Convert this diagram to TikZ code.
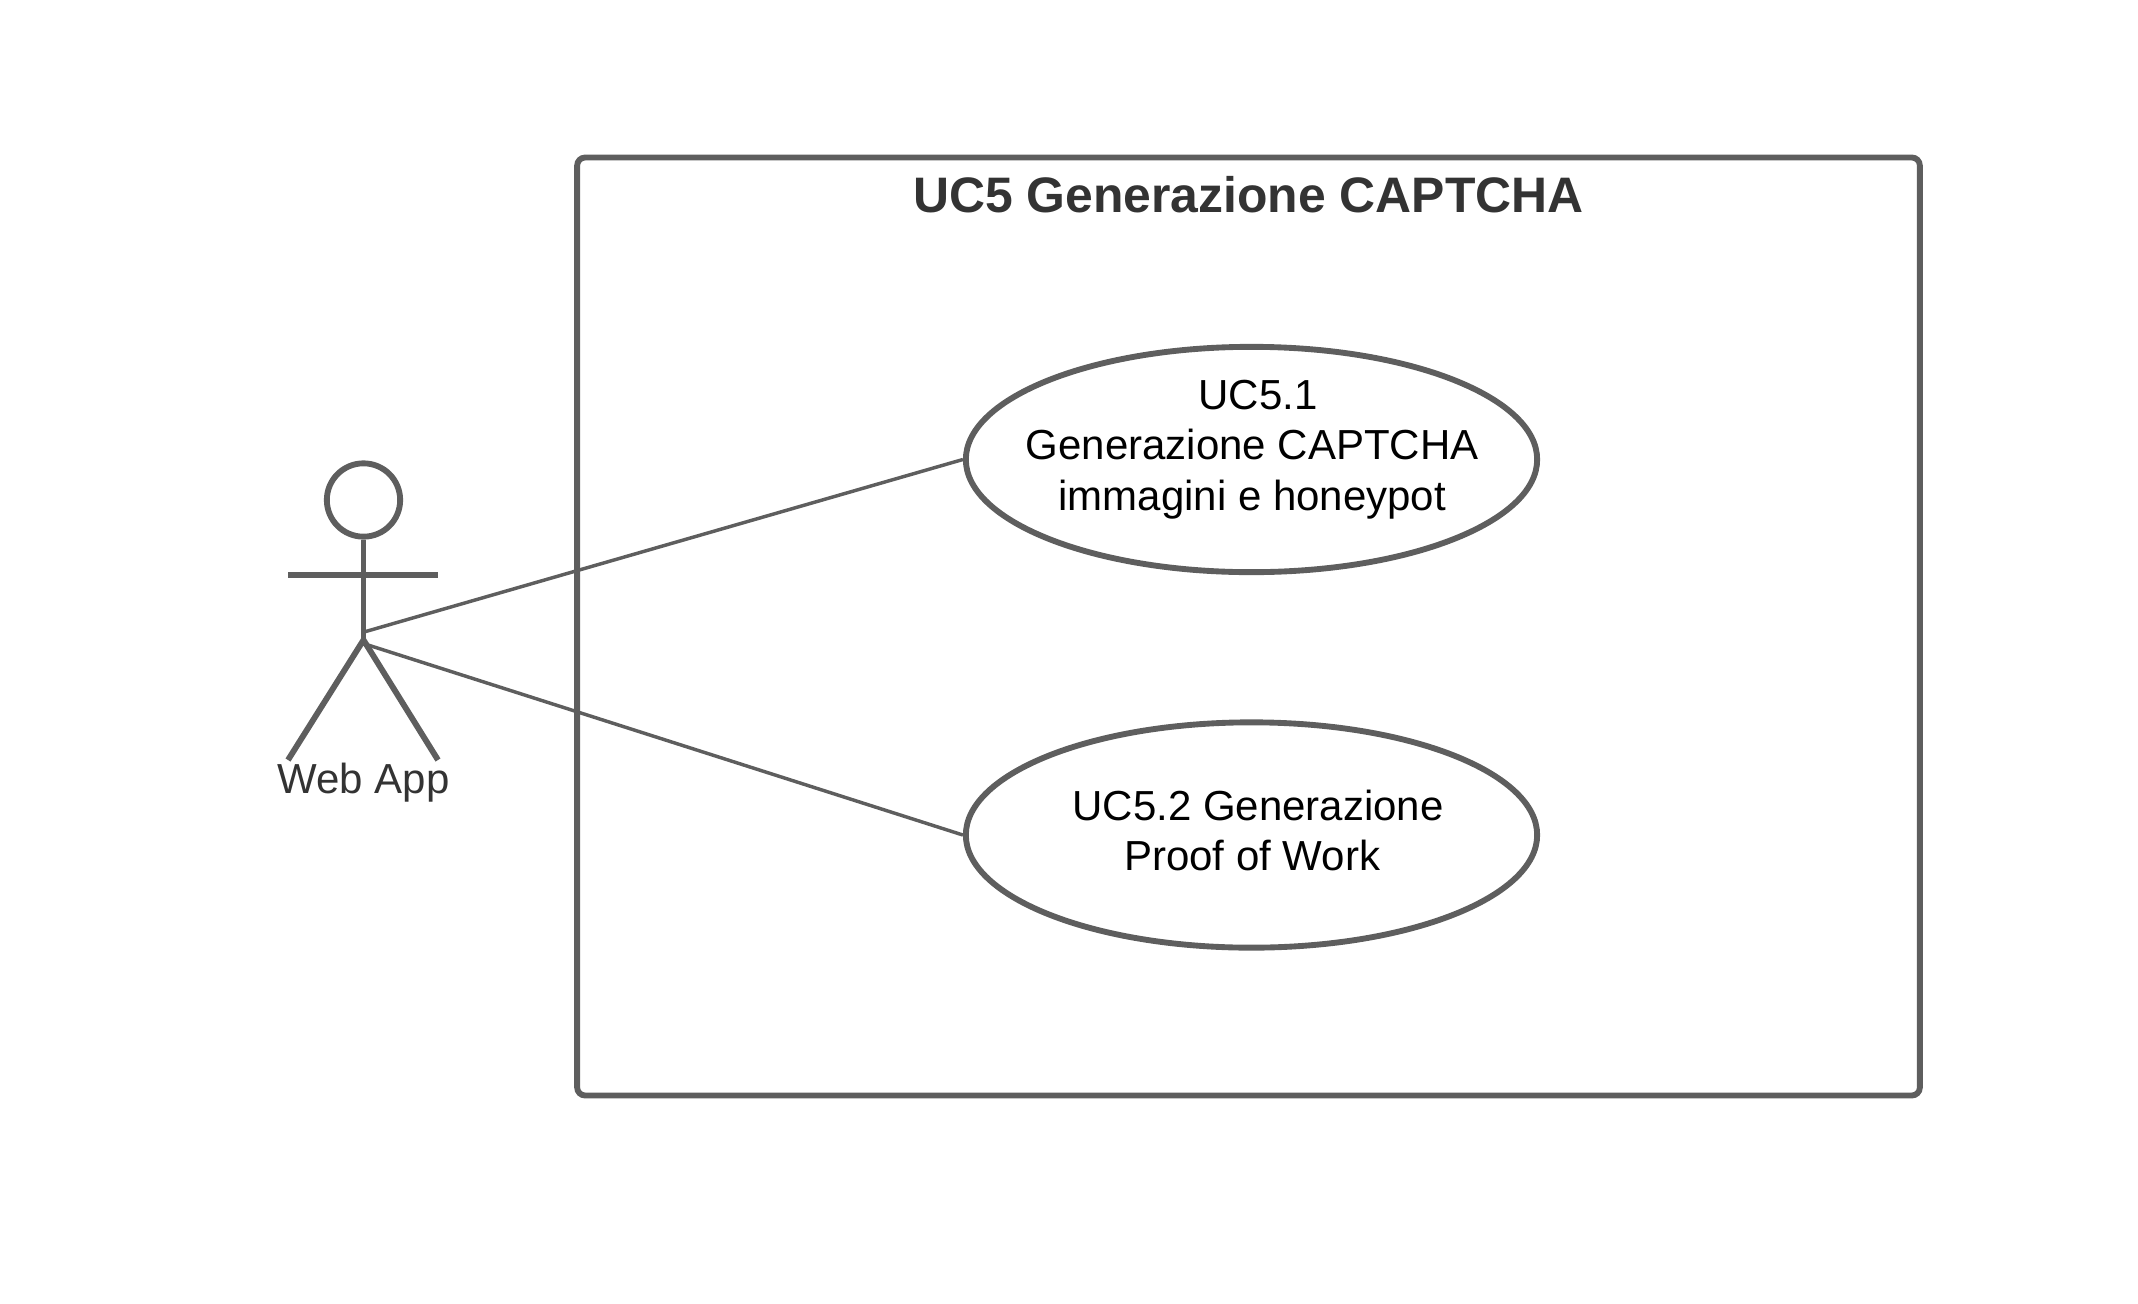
\documentclass[tikz,border=0pt]{standalone}
\usepackage{fontspec}
\setmainfont{Liberation Sans}
\usepackage{xcolor}
\usetikzlibrary{positioning, shapes.geometric}
\definecolor{umlline}{HTML}{5E5E5E}
\definecolor{umltext}{HTML}{333333}

\begin{document}
\begin{tikzpicture}[
    x=0.75pt, y=-0.75pt,
    every node/.style={font=\fontsize{31.5}{37.8}\selectfont},
    usecase/.style={draw=umlline, fill=white, ellipse, line width=4.4pt, inner sep=0pt,
                    minimum width=428.5pt, minimum height=169pt},
    uclabel/.style={align=center, text=black, xshift=0.5pt},
    actorhead/.style={draw=umlline, circle, line width=4.4pt, inner sep=0pt, minimum size=55pt},
    limb/.style={draw=umlline, line width=4.4pt},
    assoc/.style={draw=umlline, line width=2.6pt}
]
    \useasboundingbox (0,0) rectangle (2138,1303);

    % system boundary
    \node[draw=umlline, line width=4.4pt, rounded corners=6pt, minimum width=1007pt,
          minimum height=703.5pt, inner sep=0pt] (boundary) at (1248.5,626.5) {};
    \node[below=13pt of boundary.north, text=umltext, font=\fontsize{37.4}{44}\selectfont\bfseries]
        (title) {UC5 Generazione CAPTCHA};

    % use cases
    \node[usecase, label={[uclabel, yshift=7.5pt]center:{\hspace*{8.75pt}UC5.1\\Generazione CAPTCHA\\immagini e honeypot}}]
        (uca) at (1251.5,459.5) {};
    \node[usecase, label={[uclabel, yshift=3.5pt]center:{\hspace*{8.75pt}UC5.2 Generazione\\Proof of Work}}]
        (ucb) at (1251.5,835) {};

    % actor
    \node[actorhead] (head) at (363.5,500) {};
    \coordinate (hip) at (363.5,640);
    \coordinate (armleft) at (288,575);
    \coordinate (armright) at (438,575);
    \coordinate (footleft) at (288,760);
    \coordinate (footright) at (438,760);
    \coordinate (linka) at (364,632);
    \coordinate (linkb) at (368,645);
    \node[text=umltext, below=-1pt of hip |- footleft] (webapp) {Web App};

    \draw[limb] (head.south) -- (hip);
    \draw[limb] (armleft) -- (armright);
    \draw[limb] (footleft) -- (hip) -- (footright);

    \draw[assoc] (linka) -- (uca.west);
    \draw[assoc] (linkb) -- (ucb.west);
\end{tikzpicture}
\end{document}
